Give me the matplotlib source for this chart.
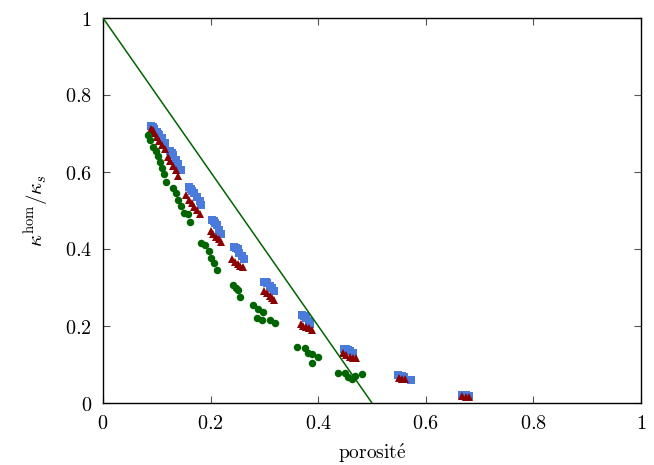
import matplotlib
matplotlib.use("Agg")
import matplotlib.pyplot as plt
import numpy as np

plt.rcParams['mathtext.fontset'] = 'cm'
plt.rcParams['font.family'] = ['DejaVu Serif']

# Blue squares
blue_x = [0.090, 0.093, 0.095, 0.100, 0.103, 0.105, 0.110, 0.115,
          0.125, 0.128, 0.130, 0.135, 0.140, 0.145,
          0.160, 0.163, 0.165, 0.170, 0.175, 0.180, 0.183,
          0.203, 0.206, 0.208, 0.212, 0.215, 0.220,
          0.243, 0.247, 0.250, 0.253, 0.258, 0.262,
          0.300, 0.303, 0.305, 0.310, 0.315, 0.318,
          0.370, 0.373, 0.375, 0.378, 0.382, 0.385,
          0.448, 0.452, 0.455, 0.460, 0.465,
          0.548, 0.552, 0.555, 0.560, 0.573,
          0.668, 0.672, 0.675, 0.680]
blue_y = [0.720, 0.716, 0.712, 0.705, 0.700, 0.695, 0.688, 0.675,
          0.655, 0.650, 0.645, 0.630, 0.620, 0.605,
          0.560, 0.556, 0.550, 0.545, 0.535, 0.525, 0.515,
          0.475, 0.472, 0.468, 0.462, 0.450, 0.440,
          0.405, 0.403, 0.400, 0.390, 0.383, 0.375,
          0.315, 0.314, 0.312, 0.305, 0.298, 0.290,
          0.228, 0.227, 0.225, 0.220, 0.212, 0.205,
          0.140, 0.139, 0.138, 0.135, 0.130,
          0.072, 0.071, 0.070, 0.068, 0.060,
          0.020, 0.021, 0.020, 0.018]

# Red triangles
red_x = [0.090, 0.093, 0.095, 0.100, 0.105, 0.110, 0.115,
         0.120, 0.125, 0.130, 0.135, 0.140,
         0.155, 0.160, 0.165, 0.170, 0.175, 0.180,
         0.200, 0.205, 0.210, 0.215, 0.220,
         0.240, 0.245, 0.250, 0.255, 0.260,
         0.300, 0.305, 0.310, 0.315, 0.318,
         0.368, 0.372, 0.378, 0.383, 0.388,
         0.447, 0.452, 0.460, 0.465, 0.470,
         0.550, 0.555, 0.562,
         0.668, 0.675, 0.680]
red_y = [0.712, 0.708, 0.702, 0.690, 0.680, 0.670, 0.660,
         0.640, 0.628, 0.615, 0.605, 0.590,
         0.540, 0.528, 0.520, 0.510, 0.500, 0.490,
         0.448, 0.440, 0.432, 0.425, 0.418,
         0.375, 0.365, 0.360, 0.355, 0.352,
         0.290, 0.285, 0.278, 0.272, 0.268,
         0.205, 0.200, 0.198, 0.195, 0.190,
         0.130, 0.125, 0.120, 0.118, 0.118,
         0.065, 0.062, 0.062,
         0.018, 0.015, 0.016]

# Green circles
green_x = [0.084, 0.087, 0.093, 0.099, 0.102, 0.106, 0.110, 0.113, 0.117,
           0.130, 0.136, 0.139, 0.145, 0.151, 0.158, 0.162,
           0.182, 0.190, 0.197, 0.201, 0.206, 0.212,
           0.242, 0.247, 0.250, 0.255,
           0.279, 0.288, 0.297, 0.286, 0.295, 0.310, 0.320,
           0.361, 0.375, 0.381, 0.388, 0.400, 0.388,
           0.437, 0.450, 0.455, 0.463, 0.468, 0.481]
green_y = [0.696, 0.683, 0.665, 0.654, 0.642, 0.626, 0.610, 0.595, 0.574,
           0.558, 0.545, 0.527, 0.512, 0.494, 0.491, 0.470,
           0.416, 0.410, 0.395, 0.377, 0.364, 0.345,
           0.306, 0.300, 0.294, 0.275,
           0.255, 0.244, 0.236, 0.221, 0.216, 0.216, 0.208,
           0.145, 0.143, 0.130, 0.127, 0.119, 0.104,
           0.078, 0.078, 0.068, 0.062, 0.070, 0.075]

line_x = [0.0, 0.5]
line_y = [1.0, 0.0]

xticks = [0, 0.2, 0.4, 0.6, 0.8, 1]
yticks = [0, 0.2, 0.4, 0.6, 0.8, 1]
tick_labels = ['$0$', '$0.2$', '$0.4$', '$0.6$', '$0.8$', '$1$']

fig = plt.figure(figsize=(6.54, 4.65), dpi=100)
ax = fig.add_axes([103/654, 1-403/465, 538/654, 385/465])

ax.plot(blue_x, blue_y, 's', color='#4a7bdc', markersize=5.2, markeredgewidth=0, zorder=3)
ax.plot(red_x, red_y, '^', color='#8b0000', markersize=5.4, markeredgewidth=0, zorder=4)
ax.plot(green_x, green_y, 'o', color='#006400', markersize=5.4, markeredgewidth=0, zorder=4)
ax.plot(line_x, line_y, '-', color='#006400', linewidth=1.1, zorder=5)

ax.set_xlim(0, 1)
ax.set_ylim(0, 1)
ax.set_xticks(xticks)
ax.set_yticks(yticks)
ax.set_xticklabels(tick_labels, fontsize=14.5)
ax.set_yticklabels(tick_labels, fontsize=14.5)
ax.tick_params(direction='in', length=5, width=0.8, top=True, right=True,
               color='#555555', pad=8)
for s in ax.spines.values():
    s.set_linewidth(1.0)

ax.set_xlabel(r'$\mathrm{porosit\acute{e}}$', fontsize=14, labelpad=6)
ax.set_ylabel(r'$\kappa^{\mathrm{hom}}/\kappa_s$', fontsize=15, labelpad=10)

fig.savefig('out.png', dpi=100)
